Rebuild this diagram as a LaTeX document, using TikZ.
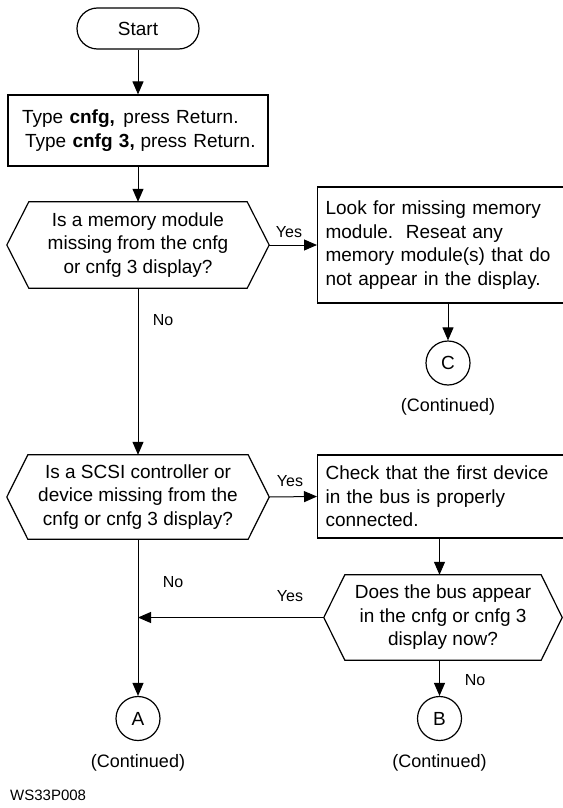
\documentclass[tikz,border=0pt]{standalone}
\usepackage{fontspec}
\setmainfont{Liberation Sans}
\usetikzlibrary{arrows.meta,calc}
\begin{document}
\begin{tikzpicture}[x=1pt,y=-1pt,
  txt/.style={font=\fontsize{19}{23.5}\selectfont, inner sep=0pt},
  boxnode/.style={draw, line width=1.2pt, txt},
  hexnode/.style={txt, align=center},
  hexline/.style={line width=1.2pt},
  conn/.style={line width=1pt, -{Triangle[length=13pt,width=11pt]}},
  lbl/.style={font=\fontsize{16}{19}\selectfont, inner sep=0pt},
  cont/.style={font=\fontsize{18}{21}\selectfont, inner sep=0pt},
  conncirc/.style={draw, circle, line width=1.2pt, minimum size=44pt, inner sep=0pt, font=\fontsize{19}{22}\selectfont}
]
\useasboundingbox (0,0) rectangle (562,808);

\node[draw, line width=1.2pt, rounded corners=20.5pt, minimum width=122pt, minimum height=41pt, txt] (start) at (138,28.5) {Start};
\node[boxnode, minimum width=260pt, minimum height=71pt, text width=250pt, inner xsep=5pt, align=left] (b1) at (138,130.5) {\hspace{9pt}Type \textbf{cnfg,}\hspace{0.45em}press Return.\\\hspace{12pt}Type \textbf{cnfg 3,}\hspace{0.3em}press Return.};
\node[hexnode, minimum width=262pt, minimum height=86pt] (d1) at (138,245) {Is a memory module\\missing from the cnfg\\or cnfg 3 display?};
\node[boxnode, minimum width=250pt, minimum height=116pt, text width=234pt, inner xsep=8pt, align=left, anchor=west] (b2) at (317,245) {Look for missing memory\\module.\ \ Reseat any\\memory module(s) that do\\not appear in the display.};
\node[conncirc] (c) at (448,363) {C};
\node[cont] (cc) at (448,407) {(Continued)};

\node[hexnode, minimum width=262pt, minimum height=84pt] (d2) at (138,497) {Is a SCSI controller or\\device missing from the\\cnfg or cnfg 3 display?};
\node[boxnode, minimum width=250pt, minimum height=83pt, text width=234pt, inner xsep=8pt, align=left, anchor=west] (b3) at (317,496.5) {Check that the first device\\in the bus is properly\\connected.};
\node[hexnode, minimum width=238pt, minimum height=85pt] (d3) at (443,617.5) {Does the bus appear\\in the cnfg or cnfg 3\\display now?};
\node[conncirc] (a) at (138,718.5) {A};
\node[conncirc] (b) at (439.5,718.5) {B};
\node[cont] (ca) at (138,763) {(Continued)};
\node[cont] (cb) at (439.5,763) {(Continued)};
\node[font=\fontsize{15}{18}\selectfont, inner sep=0pt, anchor=west] (ws) at (10,795) {WS33P008};

\foreach \n/\s in {d1/22,d2/21,d3/21}
  \draw[hexline] ($(\n.north west)+(\s,0)$) -- ($(\n.north east)+(-\s,0)$) -- (\n.east) -- ($(\n.south east)+(-\s,0)$) -- ($(\n.south west)+(\s,0)$) -- (\n.west) -- cycle;

\draw[conn] (start.south) -- (b1.north);
\draw[conn] (b1.south) -- (d1.north);
\draw[conn] (d1.east) -- (b2.west);
\node[lbl] (y1) at (289,232) {Yes};
\draw[conn] (d1.south) -- (d2.north);
\node[lbl] (n1) at (163,320) {No};
\draw[conn] (c.north |- b2.south) -- (c.north);
\draw[conn] (d2.east) -- (b3.west);
\node[lbl] (y2) at (290,481) {Yes};
\draw[conn] (b.north |- b3.south) -- (b.north |- d3.north);
\draw[conn] (d3.west) -- (d3.west -| d2.south);
\node[lbl] (y3) at (290,596) {Yes};
\draw[conn] (d2.south) -- (a.north);
\node[lbl] (n2) at (173,582) {No};
\draw[conn] (b.north |- d3.south) -- (b.north);
\node[lbl] (n3) at (475,680) {No};
\end{tikzpicture}
\end{document}
